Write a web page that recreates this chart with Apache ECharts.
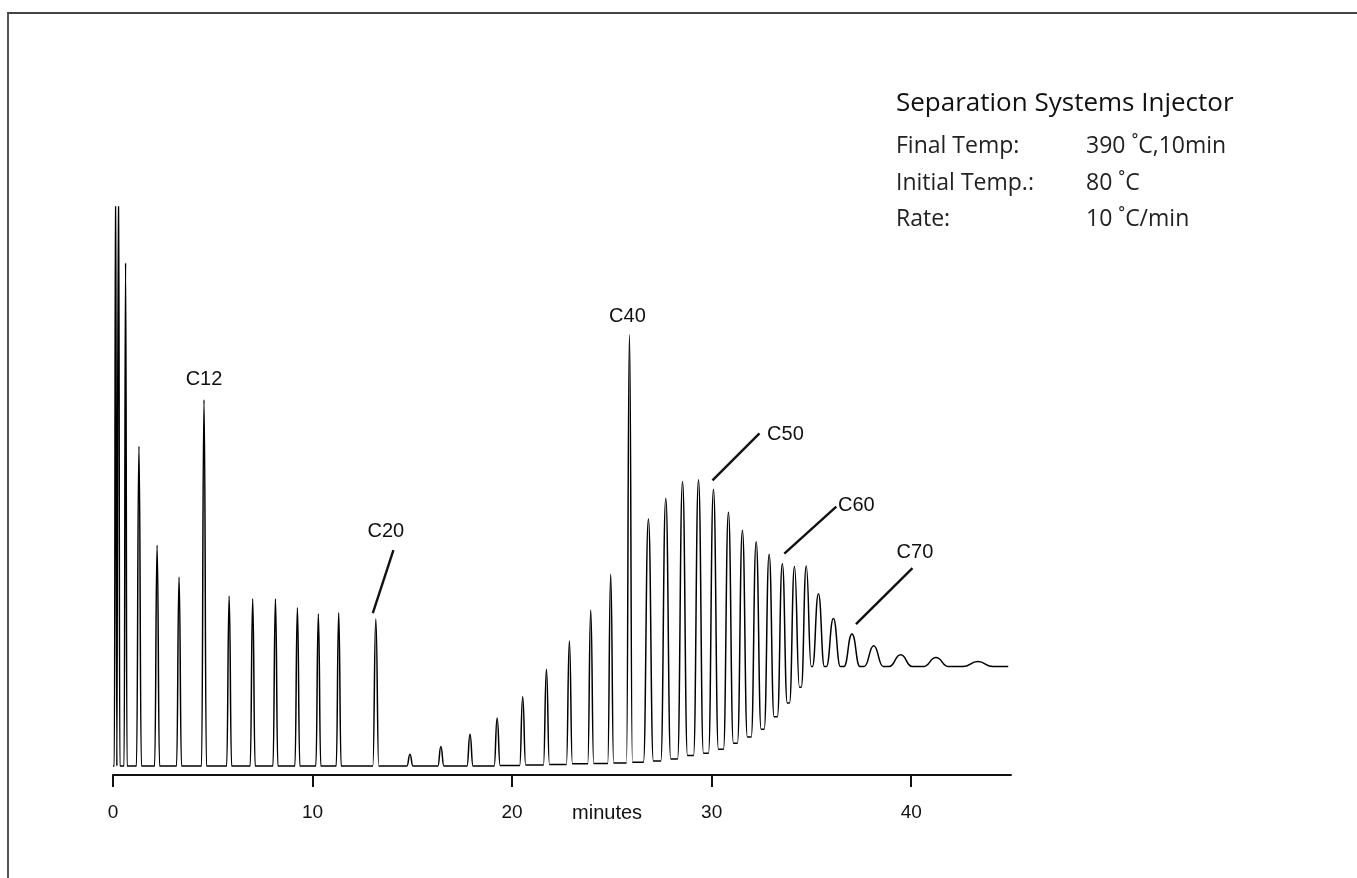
<!DOCTYPE html>
<html>
<head>
<meta charset="utf-8">
<title>Separation Systems Injector – chromatogram</title>
<script src="https://cdn.jsdelivr.net/npm/echarts@6/dist/echarts.min.js"></script>
<style>
  html, body { margin: 0; padding: 0; background: #ffffff; }
  #chart { width: 1357px; height: 878px; }
  #frame {
    position: absolute; left: 7px; top: 12px; right: 0; bottom: 0;
    border-top: 2px solid #444; border-left: 2px solid #555;
    pointer-events: none;
  }
</style>
</head>
<body>
<div id="chart"></div>
<div id="frame"></div>
<script>
// Retention time of each peak apex (minutes)
const peakTime = [
  0.13, 0.28, 0.63, 1.30, 2.21, 3.31, 4.56, 5.82, 7.00, 8.14,
  9.24, 10.29, 11.31, 13.17, 14.88, 16.43, 17.89, 19.25, 20.53, 21.72,
  22.87, 23.94, 24.94, 25.88, 26.83, 27.70, 28.54, 29.34, 30.09, 30.84,
  31.54, 32.23, 32.88, 33.54, 34.15, 34.74, 35.35, 36.10, 37.03, 38.12,
  39.47, 41.24, 43.34
];
// Detector signal at each apex (% of full scale; the two solvent peaks run off scale)
const peakSignal = [
  106, 106, 90.0, 57.2, 39.5, 33.8, 65.5, 30.4, 29.9, 29.9,
  28.3, 27.2, 27.4, 26.3, 2.1, 3.5, 5.7, 8.6, 12.4, 17.3,
  22.4, 27.9, 34.3, 77.2, 44.2, 47.9, 50.9, 51.2, 49.5, 45.4,
  42.2, 40.1, 37.9, 36.2, 35.7, 35.8, 30.8, 26.4, 23.6, 21.5,
  19.9, 19.4, 18.7
];
// Peak width at the base (minutes)
const peakWidth = [
  0.13, 0.13, 0.15, 0.25, 0.25, 0.25, 0.25, 0.25, 0.25, 0.25,
  0.25, 0.25, 0.25, 0.30, 0.30, 0.30, 0.30, 0.30, 0.30, 0.30,
  0.30, 0.30, 0.30, 0.30, 0.50, 0.50, 0.50, 0.50, 0.50, 0.50,
  0.50, 0.50, 0.50, 0.50, 0.50, 0.50, 0.60, 0.70, 0.80, 0.95,
  1.15, 1.25, 1.50
];
// Baseline level the trace returns to after each peak (column bleed rises late in the run)
const valleyAfter = [
  0, 0, 0, 0, 0, 0, 0, 0, 0, 0,
  0, 0, 0, 0, 0, 0, 0, 0.1, 0.2, 0.3,
  0.4, 0.45, 0.55, 0.7, 0.9, 1.25, 1.9, 2.3, 3.0, 4.1,
  5.2, 6.6, 8.8, 11.3, 14.1, 17.8, 17.8, 17.8, 17.8, 17.8,
  17.8, 17.8, 17.8
];
const traceStart = [0, 0];
const traceEnd = [44.86, 17.8];

// Axis ticks
const tickValues = [0, 10, 20, 30, 40];
const tickLabels = ['0', '10', '20', '30', '40'];
const axisTitle = 'minutes';

// Carbon-number annotations and the peak each one marks
const labelNames = ['C12', 'C20', 'C40', 'C50', 'C60', 'C70'];
const labelPeak = [6, 13, 23, 28, 33, 38];

// Method conditions
const methodTitle = 'Separation Systems Injector';
const methodKeys = ['Final Temp:', 'Initial Temp.:', 'Rate:'];
const methodValues = ['390 ˚C,10min', '80 ˚C', '10 ˚C/min'];

// Build the detector trace: each peak rises from the current baseline,
// peaks at its apex and settles on the next baseline level.
const trace = [traceStart.slice()];
let level = traceStart[1];
peakTime.forEach(function (t, i) {
  trace.push([t - peakWidth[i] / 2, level]);
  trace.push([t, peakSignal[i]]);
  level = valleyAfter[i];
  trace.push([t + peakWidth[i] / 2, level]);
});
trace.push(traceEnd.slice());

const LABEL_FONT = 'Liberation Sans, Arial, sans-serif';
const INFO_FONT = 'Open Sans, Noto Sans, sans-serif';

const chart = echarts.init(document.getElementById('chart'), null, { renderer: 'canvas' });

chart.setOption({
  animation: false,
  backgroundColor: '#ffffff',
  grid: { left: 113, right: 346, top: 207, bottom: 103 },
  xAxis: {
    type: 'value',
    min: 0,
    max: 45,
    axisLine: { onZero: false, lineStyle: { color: '#111', width: 2 } },
    axisTick: { customValues: tickValues, length: 12, lineStyle: { color: '#111', width: 2 } },
    axisLabel: {
      customValues: tickValues,
      formatter: function (v) { return tickLabels[tickValues.indexOf(v)]; },
      margin: 28,
      fontSize: 19,
      fontFamily: LABEL_FONT,
      color: '#111'
    },
    splitLine: { show: false }
  },
  yAxis: { type: 'value', min: -1.6, max: 100, show: false },
  series: [{
    type: 'line',
    data: trace,
    showSymbol: false,
    smooth: 0.5,
    smoothMonotone: 'x',
    clip: true,
    lineStyle: { color: '#000', width: 1.5 }
  }]
});

// Annotation placement (pixel offsets from the marked apex)
const annotationStyle = {
  C12: { text: [0, -20] },
  C20: { text: [10, -88], leader: [[-3, -6], [17.6, -69]] },
  C40: { text: [-2, -18] },
  C50: { text: [72, -55], leader: [[-1, -9], [46, -56]] },
  C60: { text: [74, -58], leader: [[2, -10], [54, -57]] },
  C70: { text: [63, -82], leader: [[4, -10], [60.5, -66]] }
};

const graphics = [];
labelNames.forEach(function (name, k) {
  const i = labelPeak[k];
  const apex = chart.convertToPixel({ gridIndex: 0 }, [peakTime[i], peakSignal[i]]);
  const st = annotationStyle[name];
  graphics.push({
    type: 'text', x: apex[0] + st.text[0], y: apex[1] + st.text[1],
    style: {
      text: name, fontSize: 20, fontFamily: LABEL_FONT,
      fill: '#111', align: 'center', verticalAlign: 'middle'
    }
  });
  if (st.leader) {
    graphics.push({
      type: 'line',
      shape: {
        x1: apex[0] + st.leader[0][0], y1: apex[1] + st.leader[0][1],
        x2: apex[0] + st.leader[1][0], y2: apex[1] + st.leader[1][1]
      },
      style: { stroke: '#111', lineWidth: 2.4 }
    });
  }
});

// Axis title sits between the 20 and 30 minute labels
const titlePos = chart.convertToPixel({ gridIndex: 0 }, [24.76, 0]);
graphics.push({
  type: 'text', x: titlePos[0], y: 813,
  style: {
    text: axisTitle, fontSize: 20, fontFamily: LABEL_FONT,
    fill: '#111', align: 'center', verticalAlign: 'middle'
  }
});

// Method conditions block
graphics.push({
  type: 'text', x: 896, y: 104,
  style: {
    text: methodTitle, fontSize: 26, fontFamily: INFO_FONT,
    fill: '#111', align: 'left', verticalAlign: 'middle'
  }
});
const rowY = [146, 183, 219];
methodKeys.forEach(function (key, r) {
  graphics.push({
    type: 'text', x: 896, y: rowY[r],
    style: {
      text: key, fontSize: 23, fontFamily: INFO_FONT,
      fill: '#222', align: 'left', verticalAlign: 'middle'
    }
  });
  graphics.push({
    type: 'text', x: 1086, y: rowY[r],
    style: {
      text: methodValues[r], fontSize: 23, fontFamily: INFO_FONT,
      fill: '#222', align: 'left', verticalAlign: 'middle'
    }
  });
});

chart.setOption({ graphic: graphics });
</script>
</body>
</html>
